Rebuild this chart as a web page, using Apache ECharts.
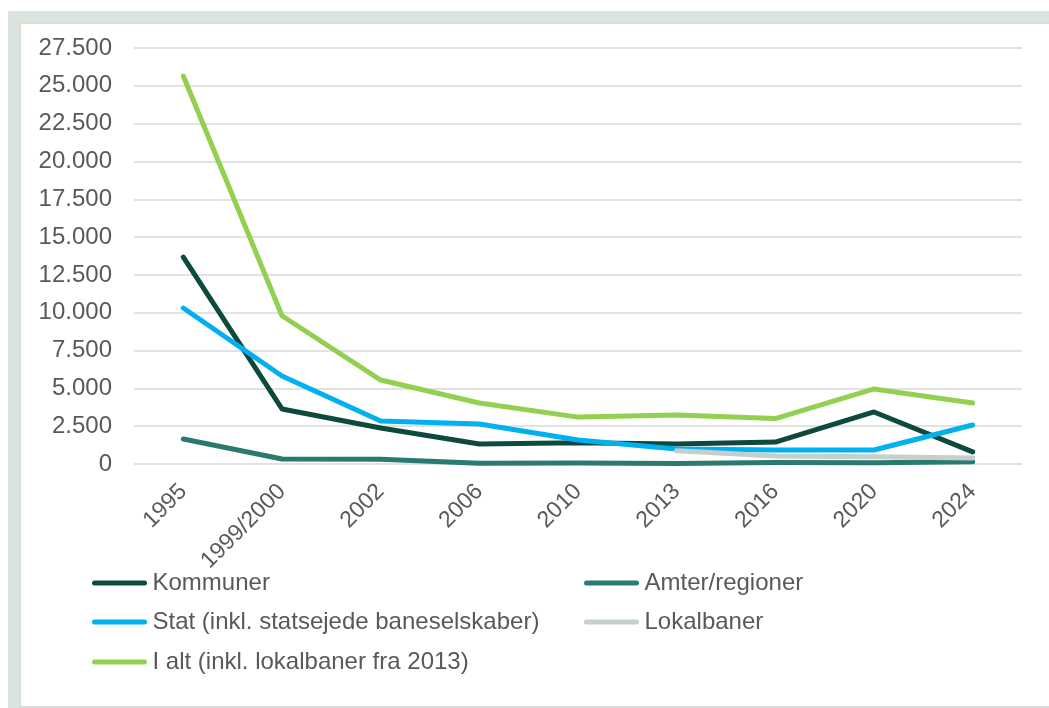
<!DOCTYPE html>
<html>
<head>
<meta charset="utf-8">
<script src="https://cdn.jsdelivr.net/npm/echarts@6/dist/echarts.min.js"></script>
<style>
html,body{margin:0;padding:0;background:#fff;width:1049px;height:708px;overflow:hidden;}
#outer{position:absolute;left:8px;top:11px;width:1041px;height:697px;background:#d9e4dc;}
#inner{position:absolute;left:19px;top:22px;width:1030px;height:686px;background:#fff;box-sizing:border-box;border-top:2px solid #dcdcdc;border-left:2px solid #dcdcdc;border-bottom:2px solid #dcdcdc;}
#chart{position:absolute;left:0;top:0;width:1049px;height:708px;}
</style>
</head>
<body>
<div id="outer"></div>
<div id="inner"></div>
<div id="chart"></div>
<script>
const categories = ['1995','1999/2000','2002','2006','2010','2013','2016','2020','2024'];
const kommuner = [13680, 3640, 2380, 1320, 1400, 1320, 1450, 3440, 800];
const amter = [1650, 330, 320, 50, 60, 30, 100, 80, 150];
const stat = [10310, 5820, 2840, 2640, 1590, 990, 925, 925, 2580];
const lokalbaner = [null, null, null, null, null, 880, 530, 480, 400];
const iAlt = [25650, 9800, 5550, 4030, 3100, 3240, 3000, 4960, 4030];
const yTicks = [0, 2500, 5000, 7500, 10000, 12500, 15000, 17500, 20000, 22500, 25000, 27500];

const names = ['Kommuner','Amter/regioner','Stat (inkl. statsejede baneselskaber)','Lokalbaner','I alt (inkl. lokalbaner fra 2013)'];
const colors = ['#0d4a3d','#2a7a72','#00b0f0','#c4cfce','#92d050'];
const datasets = [kommuner, amter, stat, lokalbaner, iAlt];

const FONT = 'Liberation Sans, Arial, sans-serif';
const chart = echarts.init(document.getElementById('chart'), null, {renderer:'canvas'});
const fmt = v => String(v).replace(/\B(?=(\d{3})+(?!\d))/g, '.');

const legendText = {color:'#595959', fontSize:24, fontFamily:FONT, lineHeight:24};
const iconPath = 'path://M2.5,0 L52.5,0 A2.5,2.5 0 0 1 52.5,5 L2.5,5 A2.5,2.5 0 0 1 2.5,0 Z';
// legend slot positions: [left, top]
const legendPos = [[92,571],[584,571],[92,610],[584,610],[92,650]];
const legends = names.map((n,i)=>({
  show:true, orient:'horizontal', left:legendPos[i][0], top:legendPos[i][1],
  itemWidth:56, itemHeight:5, data:[{name:n, icon:iconPath, itemStyle:{color:colors[i]}}],
  textStyle:legendText, selectedMode:false, padding:0
}));

chart.setOption({
  animation:false,
  backgroundColor:'transparent',
  grid:{left:134, right:27, top:48, bottom:244, containLabel:false},
  xAxis:{
    type:'category', data:categories, boundaryGap:true,
    axisLine:{show:false}, axisTick:{show:false},
    axisLabel:{rotate:45, color:'#595959', fontSize:23, fontFamily:FONT, margin:24, interval:0}
  },
  yAxis:{
    type:'value', min:yTicks[0], max:yTicks[yTicks.length-1], interval:2500,
    axisLine:{show:false}, axisTick:{show:false},
    axisLabel:{color:'#595959', fontSize:24, fontFamily:FONT, margin:22, formatter:fmt},
    splitLine:{lineStyle:{color:'#d9d9d9', width:1.5}}
  },
  legend:legends,
  series: datasets.map((d,i)=>({
    name:names[i], type:'line', data:d, symbol:'none', smooth:false,
    color:colors[i],
    lineStyle:{color:colors[i], width:5, cap:'round', join:'round'},
    z:2+i
  }))
});
</script>
</body>
</html>
